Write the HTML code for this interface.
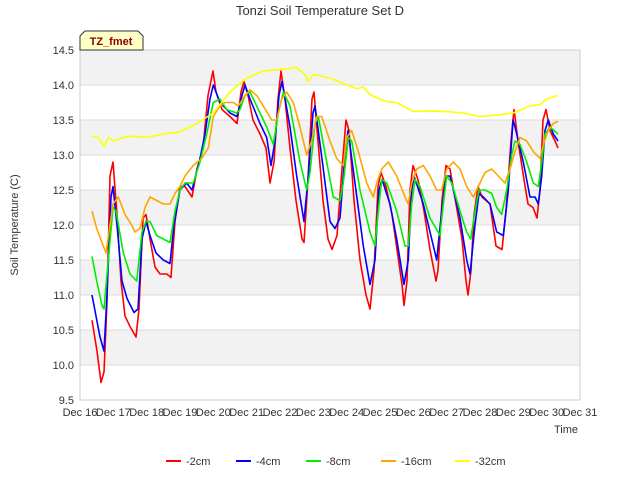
<!DOCTYPE html>
<html><head><meta charset="utf-8"><style>
body{margin:0;background:#fff;font-family:"Liberation Sans",sans-serif}
svg text{font-family:"Liberation Sans",sans-serif}
</style></head><body>
<svg id="c" width="640" height="480" xmlns="http://www.w3.org/2000/svg">
<rect width="640" height="480" fill="#fff"/>
<g id="bands"></g>
<g id="grid"></g>
<rect x="80" y="50" width="500" height="350" fill="none" stroke="#ccc"/>
<text x="320" y="15" text-anchor="middle" font-size="13" fill="#333">Tonzi Soil Temperature Set D</text>
<text transform="translate(18,225) rotate(-90)" text-anchor="middle" font-size="11" fill="#333">Soil Temperature (C)</text>
<text x="566" y="433" text-anchor="middle" font-size="11" fill="#333">Time</text>
<g id="ticks"></g>
<g id="series"></g>
<g>
<path d="M80,50 L80,36 L85,31 L138,31 L143,36 L143,50 Z" fill="#ffffc8" stroke="#333"/>
<text x="111" y="45" text-anchor="middle" font-size="11" font-weight="bold" fill="#8b0000">TZ_fmet</text>
</g>
<g id="legend"></g>
</svg>
<script>
const xTicks=["Dec 16","Dec 17","Dec 18","Dec 19","Dec 20","Dec 21","Dec 22","Dec 23","Dec 24","Dec 25","Dec 26","Dec 27","Dec 28","Dec 29","Dec 30","Dec 31"];
const yTicks=[9.5,10.0,10.5,11.0,11.5,12.0,12.5,13.0,13.5,14.0,14.5];
const seriesNames=["-2cm","-4cm","-8cm","-16cm","-32cm"];
const seriesColors=["#ff0000","#0000ff","#00ee00","#ffa500","#ffff00"];
const t2=[0.36,0.51,0.63,0.72,0.81,0.9,0.99,1.11,1.23,1.35,1.5,1.68,1.77,1.89,1.98,2.1,2.25,2.4,2.6,2.73,2.85,3.0,3.15,3.36,3.51,3.69,3.84,3.99,4.08,4.26,4.5,4.71,4.83,4.92,5.04,5.19,5.4,5.58,5.7,5.82,5.94,6.03,6.15,6.3,6.48,6.66,6.72,6.84,6.96,7.02,7.14,7.29,7.44,7.56,7.71,7.86,7.98,8.07,8.22,8.4,8.58,8.7,8.82,8.94,9.03,9.18,9.36,9.54,9.66,9.72,9.81,9.9,9.99,10.14,10.32,10.5,10.68,10.74,10.86,10.98,11.1,11.28,11.46,11.58,11.64,11.73,11.82,11.94,12.06,12.3,12.48,12.66,12.78,12.93,13.02,13.14,13.32,13.44,13.59,13.71,13.8,13.89,13.98,14.1,14.25,14.34];
const v2=[10.64,10.2,9.75,9.9,10.9,12.7,12.9,12.15,11.2,10.7,10.55,10.4,10.8,12.1,12.15,11.8,11.4,11.3,11.3,11.25,12.05,12.55,12.55,12.4,12.8,13.1,13.85,14.2,13.9,13.65,13.55,13.45,13.9,14.05,13.85,13.5,13.3,13.1,12.6,12.9,13.8,14.2,13.8,13.1,12.35,11.8,11.75,12.65,13.8,13.9,13.2,12.35,11.8,11.65,11.85,12.8,13.5,13.35,12.35,11.5,11.0,10.8,11.35,12.55,12.75,12.55,12.15,11.55,11.15,10.85,11.2,12.5,12.85,12.65,12.2,11.65,11.2,11.35,12.35,12.85,12.8,12.3,11.8,11.2,11.0,11.35,12.15,12.55,12.4,12.3,11.7,11.65,12.2,13.2,13.65,13.2,12.65,12.3,12.25,12.1,12.5,13.5,13.65,13.35,13.2,13.1];
const t4=[0.36,0.6,0.72,0.81,0.93,0.99,1.11,1.26,1.41,1.62,1.74,1.86,1.98,2.1,2.28,2.5,2.7,2.82,3.0,3.2,3.36,3.6,3.75,3.9,4.0,4.2,4.5,4.71,4.86,4.95,5.1,5.4,5.6,5.73,5.85,5.97,6.06,6.3,6.5,6.72,6.85,6.99,7.05,7.3,7.5,7.65,7.8,7.95,8.04,8.25,8.5,8.7,8.85,8.97,9.06,9.3,9.5,9.72,9.85,9.95,10.02,10.3,10.55,10.7,10.85,10.98,11.1,11.4,11.6,11.7,11.85,11.97,12.1,12.3,12.5,12.7,12.85,12.99,13.05,13.3,13.5,13.65,13.75,13.85,13.95,14.05,14.2,14.34];
const v4=[11.0,10.4,10.2,11.0,12.4,12.55,12.0,11.2,10.95,10.75,10.8,11.8,12.05,11.85,11.6,11.5,11.45,12.0,12.5,12.6,12.5,12.95,13.3,13.8,14.0,13.75,13.6,13.55,13.85,14.0,13.8,13.45,13.25,12.85,13.2,13.85,14.05,13.4,12.7,12.05,12.7,13.6,13.7,12.8,12.05,11.95,12.1,13.0,13.35,12.6,11.7,11.15,11.5,12.5,12.65,12.3,11.8,11.15,11.5,12.5,12.7,12.3,11.8,11.5,12.2,12.7,12.7,12.1,11.5,11.3,12.0,12.45,12.4,12.3,11.9,11.85,12.5,13.5,13.4,12.9,12.4,12.4,12.3,12.7,13.35,13.5,13.3,13.2];
const t8=[0.36,0.5,0.66,0.72,0.85,0.99,1.08,1.3,1.5,1.7,1.86,1.98,2.1,2.3,2.5,2.7,2.85,3.0,3.15,3.4,3.6,3.8,4.0,4.2,4.4,4.7,4.8,4.95,5.1,5.4,5.6,5.8,5.95,6.1,6.3,6.6,6.8,6.9,7.05,7.15,7.4,7.6,7.8,7.9,8.05,8.15,8.4,8.7,8.85,8.95,9.05,9.2,9.5,9.75,9.85,9.95,10.05,10.2,10.5,10.8,10.9,11.0,11.15,11.4,11.6,11.72,11.85,11.97,12.15,12.35,12.5,12.65,12.8,12.95,13.05,13.2,13.4,13.6,13.75,13.85,13.95,14.1,14.34];
const v8=[11.55,11.2,10.85,10.8,11.5,12.25,12.2,11.6,11.3,11.2,11.9,12.05,12.05,11.85,11.8,11.75,12.2,12.5,12.6,12.6,12.9,13.3,13.75,13.8,13.65,13.6,13.65,13.85,13.9,13.6,13.4,13.15,13.6,13.9,13.7,12.9,12.5,12.75,13.45,13.55,12.9,12.4,12.35,12.6,13.25,13.2,12.5,11.9,11.7,12.2,12.65,12.6,12.2,11.7,11.7,12.3,12.65,12.55,12.1,11.85,12.3,12.7,12.6,12.2,11.9,11.8,12.2,12.5,12.5,12.45,12.25,12.15,12.5,13.0,13.2,13.15,12.9,12.6,12.55,12.9,13.3,13.4,13.3];
const t16=[0.36,0.5,0.66,0.78,0.9,0.99,1.15,1.35,1.55,1.65,1.8,1.95,2.1,2.3,2.5,2.7,2.85,3.0,3.15,3.4,3.65,3.85,4.0,4.2,4.35,4.6,4.75,4.95,5.1,5.3,5.5,5.75,5.9,6.05,6.2,6.4,6.6,6.8,6.95,7.1,7.25,7.5,7.7,7.9,8.0,8.15,8.35,8.6,8.8,8.9,9.05,9.25,9.5,9.75,9.85,9.95,10.1,10.3,10.5,10.7,10.85,11.0,11.2,11.4,11.6,11.8,11.95,12.15,12.35,12.55,12.75,12.9,13.05,13.2,13.4,13.6,13.8,13.9,14.05,14.2,14.34];
const v16=[12.2,11.95,11.75,11.6,12.0,12.3,12.4,12.15,12.0,11.9,11.95,12.25,12.4,12.35,12.3,12.3,12.45,12.55,12.7,12.85,12.95,13.1,13.55,13.7,13.75,13.75,13.7,13.85,13.93,13.85,13.7,13.5,13.5,13.8,13.9,13.75,13.4,13.0,13.2,13.55,13.55,13.2,12.95,12.85,13.25,13.35,13.05,12.6,12.4,12.6,12.8,12.9,12.7,12.4,12.3,12.6,12.8,12.85,12.7,12.5,12.5,12.8,12.9,12.8,12.55,12.4,12.55,12.75,12.8,12.7,12.6,12.8,13.05,13.25,13.2,13.05,12.95,13.15,13.35,13.45,13.48];
const t32=[0.36,0.55,0.72,0.85,1.0,1.3,1.5,2.0,2.5,3.0,3.5,4.0,4.5,5.0,5.5,6.0,6.5,6.75,6.85,7.0,7.5,8.0,8.3,8.5,8.7,9.0,9.2,9.5,10.0,10.5,11.0,11.5,12.0,12.5,13.0,13.5,13.8,14.0,14.34];
const v32=[13.27,13.25,13.12,13.25,13.2,13.25,13.27,13.25,13.3,13.33,13.45,13.6,13.9,14.1,14.2,14.22,14.25,14.15,14.05,14.15,14.1,14.0,13.95,13.97,13.86,13.8,13.76,13.75,13.62,13.63,13.62,13.6,13.55,13.57,13.6,13.7,13.72,13.8,13.85];
const allT=[t2,t4,t8,t16,t32], allV=[v2,v4,v8,v16,v32];
const NS="http://www.w3.org/2000/svg";
const X0=80,X1=580,Y0=400,Y1=50,D0=0,D1=15,V0=9.5,V1=14.5;
function sx(t){return X0+(t-D0)/(D1-D0)*(X1-X0);}
function sy(v){return Y0-(v-V0)/(V1-V0)*(Y0-Y1);}
function mk(tag,attrs,parent){const e=document.createElementNS(NS,tag);for(const k in attrs)e.setAttribute(k,attrs[k]);parent.appendChild(e);return e;}
const bands=document.getElementById('bands'),grid=document.getElementById('grid'),ticks=document.getElementById('ticks');
mk('rect',{x:X0,y:Y1,width:X1-X0,height:Y0-Y1,fill:'#fff'},bands);
for(let i=0;i<yTicks.length-1;i++){
  if((yTicks.length-2-i)%2===0){
    const b=mk('rect',{x:X0,y:sy(yTicks[i+1]),width:X1-X0,height:sy(yTicks[i])-sy(yTicks[i+1]),fill:'#f2f2f2'},bands);
    
    
  }
}
yTicks.forEach(v=>{
  const l=mk('line',{x1:X0,x2:X1,y1:sy(v),y2:sy(v),stroke:'#dcdcdc'},grid);
  
  
  const t=mk('text',{x:X0-6,y:sy(v)+4,'text-anchor':'end','font-size':'11',fill:'#333'},ticks);
  t.textContent=v.toFixed(1);
  
  
});
xTicks.forEach((s,i)=>{
  const x=sx(i);
  const t=mk('text',{x:x,y:Y0+16,'text-anchor':'middle','font-size':'11',fill:'#333'},ticks);
  t.textContent=s;
  
  
});
const sg=document.getElementById('series');
allT.forEach((ts,k)=>{
  const pts=ts.map((t,i)=>sx(t).toFixed(1)+','+sy(allV[k][i]).toFixed(1)).join(' ');
  const p=mk('polyline',{points:pts,fill:'none',stroke:seriesColors[k],'stroke-width':'1.6','stroke-linejoin':'round'},sg);
  
  
});
const lg=document.getElementById('legend');
const lx=[166,236,306,381,455];
seriesNames.forEach((n,k)=>{
  const g=mk('g',{},lg);
  
  
  mk('line',{x1:lx[k],x2:lx[k]+15,y1:461,y2:461,stroke:seriesColors[k],'stroke-width':'2'},g);
  const t=mk('text',{x:lx[k]+20,y:465,'font-size':'11',fill:'#333'},g);
  t.textContent=n;
});
</script>
</body></html>
